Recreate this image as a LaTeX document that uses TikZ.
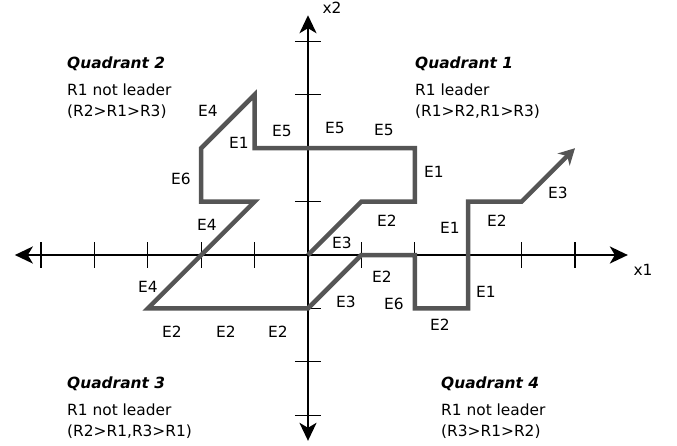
\documentclass[tikz,border=0pt]{standalone}
\usepackage{fontspec}
\setmainfont{DejaVu Sans}
\usetikzlibrary{arrows.meta}
\definecolor{routegray}{RGB}{85,85,85}
\begin{document}
\begin{tikzpicture}[x=1pt,y=1pt,font=\fontsize{15.4}{18}\selectfont,
  axisline/.style={line width=2.2pt,black,{Stealth[length=18pt,width=17pt,inset=5pt]}-{Stealth[length=18pt,width=17pt,inset=5pt]}},
  tickmark/.style={line width=1.3pt,black},
  route/.style={line width=4.5pt,draw=routegray,line join=miter,-{Stealth[length=16pt,width=17pt,inset=5pt]}},
  lbl/.style={inner sep=0pt},
  qtitle/.style={anchor=base west,inner sep=0pt,font=\fontsize{15.4}{18}\selectfont\bfseries\itshape},
  qtext/.style={anchor=base west,inner sep=0pt}]
\useasboundingbox (-308,-190) rectangle (369,255);
\begin{scope}[x=53.4pt,y=53.4pt]
  \coordinate (xl) at (-5.49,0);
  \coordinate (xr) at (5.99,0);
  \coordinate (yb) at (0,-3.48);
  \coordinate (yt) at (0,4.49);
  \draw[axisline] (xl) -- (xr);
  \draw[axisline] (yb) -- (yt);
  \foreach \i in {-5,-4,-3,-2,-1,1,2,3,4,5}
    \draw[tickmark] (\i,0) ++(0,13pt) -- ++(0,-26pt);
  \foreach \j in {-3,-2,-1,1,2,3,4}
    \draw[tickmark] (0,\j) ++(-13pt,0) -- ++(26pt,0);
  \draw[route] (0,0) -- (1,1) -- (2,1) -- (2,2) -- (-1,2) -- (-1,3) -- (-2,2)
    -- (-2,1) -- (-1,1) -- (-3,-1) -- (0,-1) -- (1,0) -- (2,0) -- (2,-1)
    -- (3,-1) -- (3,1) -- (4,1) -- (5,2);
\end{scope}
\node[lbl] (lx1) at (335,-15) {x1};
\node[lbl] (lx2) at (24,247) {x2};
% edge labels
\node[lbl] (a1) at (34,12) {E3};
\node[lbl] (a2) at (79,34) {E2};
\node[lbl] (a3) at (126,83) {E1};
\node[lbl] (a4) at (76,125) {E5};
\node[lbl] (a5) at (27,127) {E5};
\node[lbl] (a6) at (-26,124) {E5};
\node[lbl] (a7) at (-69,112) {E1};
\node[lbl] (a8) at (-100,144) {E4};
\node[lbl] (a9) at (-127,76) {E6};
\node[lbl] (a10) at (-101,30) {E4};
\node[lbl] (a11) at (-160,-32) {E4};
\node[lbl] (a12) at (-136,-77) {E2};
\node[lbl] (a13) at (-82,-77) {E2};
\node[lbl] (a14) at (-30,-77) {E2};
\node[lbl] (a15) at (38,-47) {E3};
\node[lbl] (a16) at (74,-22) {E2};
\node[lbl] (a17) at (86,-49) {E6};
\node[lbl] (a18) at (132,-70) {E2};
\node[lbl] (a19) at (178,-37) {E1};
\node[lbl] (a20) at (142,27) {E1};
\node[lbl] (a21) at (189,34) {E2};
\node[lbl] (a22) at (250,62) {E3};
% quadrant texts
\node[qtitle] (q2t) at (-241,187) {Quadrant 2};
\node[qtext] (q2a) at (-241,160) {R1 not leader};
\node[qtext] (q2b) at (-241,139) {(R2>R1>R3)};
\node[qtitle] (q1t) at (107,187) {Quadrant 1};
\node[qtext] (q1a) at (107,160) {R1 leader};
\node[qtext] (q1b) at (107,139) {(R1>R2,R1>R3)};
\node[qtitle] (q3t) at (-241,-133) {Quadrant 3};
\node[qtext] (q3a) at (-241,-160) {R1 not leader};
\node[qtext] (q3b) at (-241,-181) {(R2>R1,R3>R1)};
\node[qtitle] (q4t) at (133,-133) {Quadrant 4};
\node[qtext] (q4a) at (133,-160) {R1 not leader};
\node[qtext] (q4b) at (133,-181) {(R3>R1>R2)};
\end{tikzpicture}
\end{document}
